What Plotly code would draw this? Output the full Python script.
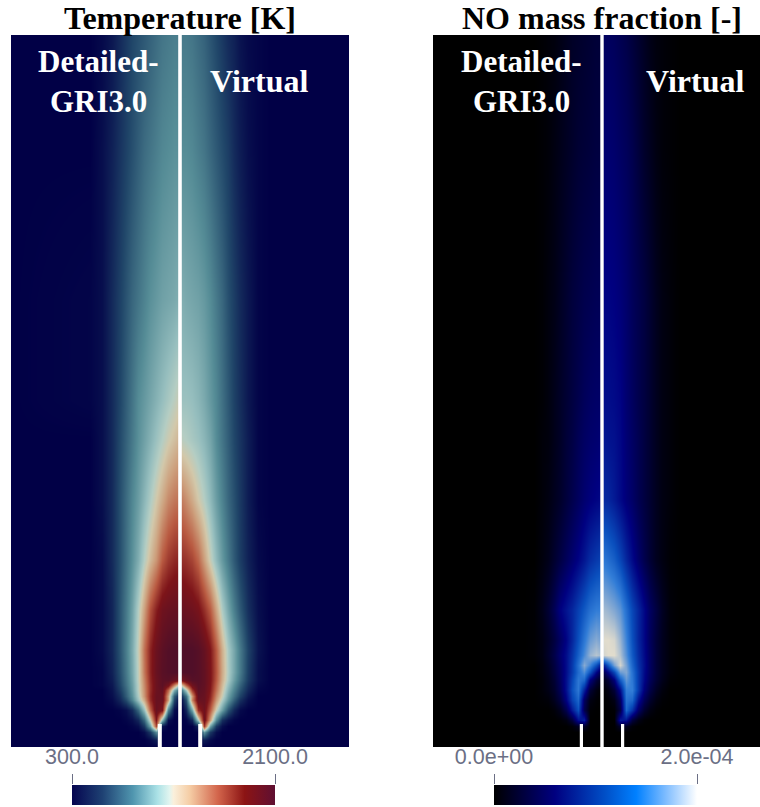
import plotly.graph_objects as go

# radial distance from the axis and height above the burner base
RADIAL = [1.8, 6, 12, 18, 24, 30, 36, 42, 48, 54, 60, 68, 78, 90, 169]
T_HEIGHT = [712, 597, 447, 347, 307, 247, 187, 137, 97, 75, 67, 62, 57, 51, 47, 37, 27, 21, 15, 7, 0]
NO_HEIGHT = [712, 597, 447, 347, 307, 247, 187, 137, 107, 92, 82, 75, 67, 57, 47, 37, 27, 21, 15, 0]

# temperature, percent of the 300-2100 K range
T_DETAILED = [
    [27, 27, 26, 25, 23, 21, 19, 17, 15, 12, 9, 5, 2, 0, 0],
    [31, 31, 30, 29, 27, 25, 23, 20, 17, 14, 11, 7, 3, 0, 0],
    [38, 37, 36, 35, 33, 31, 28, 25, 22, 18, 14, 9, 3, 1, 0],
    [50, 48, 45, 42, 39, 36, 33, 30, 25, 20, 15, 9, 3, 1, 0],
    [56, 54, 51, 47, 43, 39, 35, 31, 26, 21, 16, 9, 3, 0, 0],
    [68, 67, 64, 58, 52, 46, 40, 34, 29, 23, 17, 9, 3, 0, 0],
    [82, 81, 78, 72, 62, 55, 47, 38, 31, 24, 17, 9, 2, 0, 0],
    [93, 93, 92, 90, 83, 74, 60, 47, 35, 26, 18, 8, 2, 0, 0],
    [100, 100, 99, 96, 91, 82, 68, 50, 37, 27, 18, 8, 2, 0, 0],
    [100, 100, 99, 97, 92, 82, 67, 49, 36, 26, 17, 7, 1, 0, 0],
    [90, 92, 97, 96, 91, 81, 65, 49, 35, 25, 16, 6, 1, 0, 0],
    [50, 65, 88, 96, 91, 80, 64, 48, 34, 24, 15, 5, 1, 0, 0],
    [25, 38, 70, 94, 91, 80, 63, 48, 33, 22, 13, 4, 0, 0, 0],
    [10, 20, 60, 92, 92, 81, 62, 46, 31, 20, 10, 3, 0, 0, 0],
    [4, 15, 60, 92, 92, 80, 58, 43, 28, 16, 8, 2, 0, 0, 0],
    [0, 3, 28, 86, 92, 70, 42, 22, 9, 3, 1, 0, 0, 0, 0],
    [0, 0, 3, 40, 85, 50, 22, 8, 3, 1, 0, 0, 0, 0, 0],
    [0, 0, 0, 5, 75, 35, 12, 3, 1, 0, 0, 0, 0, 0, 0],
    [0, 0, 0, 0, 30, 12, 3, 0, 0, 0, 0, 0, 0, 0, 0],
    [0, 0, 0, 0, 6, 2, 0, 0, 0, 0, 0, 0, 0, 0, 0],
    [0, 0, 0, 0, 0, 0, 0, 0, 0, 0, 0, 0, 0, 0, 0],
]
T_VIRTUAL = [
    [26, 26, 25, 23, 21, 18, 15, 12, 9, 7, 4, 2, 1, 0, 0],
    [30, 30, 29, 27, 25, 22, 19, 16, 13, 9, 6, 3, 1, 0, 0],
    [38, 37, 36, 35, 33, 30, 26, 22, 17, 13, 9, 5, 1, 0, 0],
    [43, 43, 42, 40, 37, 33, 29, 24, 19, 14, 10, 5, 1, 0, 0],
    [48, 47, 45, 43, 40, 36, 30, 25, 20, 15, 11, 6, 1, 0, 0],
    [66, 63, 58, 52, 47, 41, 34, 28, 22, 17, 12, 6, 1, 0, 0],
    [80, 79, 76, 70, 60, 50, 41, 33, 26, 19, 13, 7, 2, 0, 0],
    [92, 91, 90, 87, 80, 72, 59, 46, 36, 27, 19, 10, 3, 0, 0],
    [100, 100, 100, 98, 93, 85, 72, 57, 45, 36, 26, 14, 4, 0, 0],
    [100, 100, 100, 98, 94, 86, 73, 58, 46, 36, 26, 13, 3, 0, 0],
    [88, 93, 98, 98, 94, 86, 72, 57, 45, 34, 24, 12, 3, 0, 0],
    [55, 72, 90, 97, 94, 85, 70, 55, 42, 31, 21, 10, 2, 0, 0],
    [28, 45, 78, 96, 93, 84, 68, 53, 39, 28, 18, 8, 1, 0, 0],
    [12, 25, 62, 94, 92, 82, 64, 50, 35, 24, 14, 5, 0, 0, 0],
    [5, 18, 65, 92, 92, 80, 61, 46, 32, 20, 10, 3, 0, 0, 0],
    [0, 8, 36, 80, 90, 72, 50, 34, 18, 8, 2, 0, 0, 0, 0],
    [0, 1, 8, 45, 90, 60, 30, 10, 4, 1, 0, 0, 0, 0, 0],
    [0, 0, 0, 8, 78, 35, 12, 3, 0, 0, 0, 0, 0, 0, 0],
    [0, 0, 0, 0, 32, 12, 3, 0, 0, 0, 0, 0, 0, 0, 0],
    [0, 0, 0, 0, 6, 2, 0, 0, 0, 0, 0, 0, 0, 0, 0],
    [0, 0, 0, 0, 0, 0, 0, 0, 0, 0, 0, 0, 0, 0, 0],
]

# NO mass fraction, percent of the 0-2e-4 range
NO_DETAILED = [
    [13, 13, 12, 11, 10, 9, 7, 5, 3, 2, 1, 0, 0, 0, 0],
    [15, 15, 14, 13, 12, 10, 8, 6, 4, 2, 1, 0, 0, 0, 0],
    [20, 20, 19, 18, 16, 14, 11, 8, 5, 3, 1, 0, 0, 0, 0],
    [24, 24, 23, 21, 18, 15, 12, 9, 6, 3, 1, 0, 0, 0, 0],
    [27, 26, 25, 23, 20, 16, 13, 9, 6, 3, 2, 0, 0, 0, 0],
    [32, 31, 29, 26, 22, 18, 14, 10, 7, 4, 2, 0, 0, 0, 0],
    [50, 48, 44, 37, 31, 26, 21, 16, 11, 6, 3, 0, 0, 0, 0],
    [70, 70, 66, 58, 50, 42, 36, 30, 20, 12, 6, 1, 0, 0, 0],
    [82, 85, 80, 68, 55, 42, 31, 23, 15, 9, 4, 1, 0, 0, 0],
    [90, 93, 88, 74, 60, 46, 34, 26, 17, 10, 4, 1, 0, 0, 0],
    [40, 55, 72, 85, 66, 48, 34, 24, 15, 8, 3, 0, 0, 0, 0],
    [20, 32, 55, 75, 64, 48, 34, 23, 14, 7, 3, 0, 0, 0, 0],
    [8, 14, 28, 62, 68, 52, 35, 22, 12, 6, 2, 0, 0, 0, 0],
    [1, 4, 12, 40, 68, 55, 35, 20, 10, 5, 2, 0, 0, 0, 0],
    [0, 1, 4, 22, 62, 50, 30, 15, 7, 2, 1, 0, 0, 0, 0],
    [0, 0, 1, 18, 55, 38, 18, 7, 2, 0, 0, 0, 0, 0, 0],
    [0, 0, 0, 40, 35, 14, 4, 1, 0, 0, 0, 0, 0, 0, 0],
    [0, 0, 0, 10, 8, 2, 0, 0, 0, 0, 0, 0, 0, 0, 0],
    [0, 0, 0, 0, 0, 0, 0, 0, 0, 0, 0, 0, 0, 0, 0],
    [0, 0, 0, 0, 0, 0, 0, 0, 0, 0, 0, 0, 0, 0, 0],
]
NO_VIRTUAL = [
    [22, 22, 21, 19, 17, 14, 11, 8, 5, 3, 2, 1, 0, 0, 0],
    [26, 26, 25, 23, 21, 18, 14, 10, 7, 4, 2, 1, 0, 0, 0],
    [31, 31, 30, 28, 25, 21, 18, 15, 11, 7, 4, 2, 0, 0, 0],
    [34, 34, 33, 31, 26, 22, 18, 15, 11, 7, 4, 2, 0, 0, 0],
    [37, 36, 35, 32, 27, 23, 19, 15, 11, 7, 4, 2, 0, 0, 0],
    [43, 42, 38, 33, 28, 24, 19, 15, 11, 7, 4, 2, 0, 0, 0],
    [68, 65, 60, 52, 42, 33, 25, 18, 12, 7, 4, 1, 0, 0, 0],
    [90, 88, 84, 78, 65, 52, 42, 32, 22, 15, 8, 2, 0, 0, 0],
    [100, 100, 98, 88, 72, 55, 42, 32, 21, 13, 7, 2, 0, 0, 0],
    [98, 100, 100, 92, 76, 58, 44, 33, 22, 13, 7, 2, 0, 0, 0],
    [42, 58, 82, 98, 82, 62, 46, 34, 22, 13, 7, 2, 0, 0, 0],
    [20, 32, 52, 80, 84, 66, 48, 33, 22, 13, 7, 2, 0, 0, 0],
    [6, 12, 28, 58, 78, 68, 48, 32, 20, 12, 6, 1, 0, 0, 0],
    [1, 4, 13, 34, 70, 70, 48, 28, 16, 8, 3, 0, 0, 0, 0],
    [0, 1, 5, 22, 66, 62, 36, 20, 10, 4, 1, 0, 0, 0, 0],
    [0, 0, 1, 16, 62, 46, 24, 11, 4, 1, 0, 0, 0, 0, 0],
    [0, 0, 0, 38, 36, 14, 5, 1, 0, 0, 0, 0, 0, 0, 0],
    [0, 0, 0, 10, 8, 2, 0, 0, 0, 0, 0, 0, 0, 0, 0],
    [0, 0, 0, 0, 0, 0, 0, 0, 0, 0, 0, 0, 0, 0, 0],
    [0, 0, 0, 0, 0, 0, 0, 0, 0, 0, 0, 0, 0, 0, 0],
]

T_LIMITS = [300.0, 2100.0]
NO_LIMITS = [0.0, 2.0e-4]
T_TICK_LABELS = ["300.0", "2100.0"]
NO_TICK_LABELS = ["0.0e+00", "2.0e-04"]
TITLES = ["Temperature [K]", "NO mass fraction [-]"]

T_FIELD_SCALE = [
    [0, "rgb(1,0,70)"], [0.15, "rgb(32,70,105)"], [0.3, "rgb(85,140,150)"],
    [0.42, "rgb(150,190,190)"], [0.47, "rgb(180,205,195)"], [0.52, "rgb(210,200,170)"],
    [0.6, "rgb(205,160,125)"], [0.72, "rgb(185,90,65)"], [0.85, "rgb(125,20,25)"], [1, "rgb(80,15,40)"],
]
T_BAR_SCALE = [
    [0, "rgb(5,5,80)"], [0.15, "rgb(30,65,115)"], [0.3, "rgb(80,150,175)"],
    [0.42, "rgb(170,225,230)"], [0.48, "rgb(225,245,240)"], [0.5, "rgb(250,240,220)"],
    [0.58, "rgb(245,205,165)"], [0.72, "rgb(210,100,75)"], [0.85, "rgb(140,20,20)"], [1, "rgb(95,15,50)"],
]
NO_FIELD_SCALE = [
    [0, "rgb(0,0,0)"], [0.3, "rgb(0,0,128)"], [0.55, "rgb(10,80,190)"], [0.7, "rgb(50,125,215)"],
    [0.85, "rgb(135,170,210)"], [1, "rgb(225,220,205)"],
]
NO_BAR_SCALE = [
    [0, "rgb(0,0,0)"], [0.3, "rgb(0,0,128)"], [0.55, "rgb(0,80,200)"], [0.7, "rgb(0,128,255)"],
    [0.85, "rgb(130,190,255)"], [1, "rgb(255,255,255)"],
]

W, H = 760, 807
TICK_COLOR = "#6b6f85"


def full_width(left, right):
    return [l[::-1] + r for l, r in zip(left, right)]


xs = [-r for r in RADIAL[::-1]] + RADIAL
T_FIELD = [[T_LIMITS[0] + (T_LIMITS[1] - T_LIMITS[0]) * v / 100 for v in row] for row in full_width(T_DETAILED, T_VIRTUAL)]
NO_FIELD = [[NO_LIMITS[1] * v / 100 for v in row] for row in full_width(NO_DETAILED, NO_VIRTUAL)]

fig = go.Figure()
fig.add_trace(go.Heatmap(x=xs, y=T_HEIGHT, z=T_FIELD, zmin=T_LIMITS[0], zmax=T_LIMITS[1], zsmooth="best",
                         colorscale=T_FIELD_SCALE, showscale=False, hoverinfo="skip", xaxis="x", yaxis="y"))
fig.add_trace(go.Heatmap(x=xs, y=NO_HEIGHT, z=NO_FIELD, zmin=NO_LIMITS[0], zmax=NO_LIMITS[1], zsmooth="best",
                         colorscale=NO_FIELD_SCALE, showscale=False, hoverinfo="skip", xaxis="x2", yaxis="y2"))


def bar_trace(limits, scale, left_px, xa, ya):
    return go.Scatter(
        x=limits, y=[0, 0], mode="markers", xaxis=xa, yaxis=ya, hoverinfo="skip", showlegend=False,
        marker=dict(
            color=limits, cmin=limits[0], cmax=limits[1], colorscale=scale, opacity=0, size=1, showscale=True,
            colorbar=dict(
                orientation="h", x=left_px / W, xanchor="left", y=2 / H, yanchor="bottom", xpad=0, ypad=0,
                lenmode="pixels", len=203, thicknessmode="pixels", thickness=20, outlinewidth=0,
                ticks="", showticklabels=False,
            ),
        ),
    )


fig.add_trace(bar_trace(T_LIMITS, T_BAR_SCALE, 72, "x3", "y3"))
fig.add_trace(bar_trace(NO_LIMITS, NO_BAR_SCALE, 494, "x4", "y4"))

shapes = []
for xa, ya, half_pipe, pipe_at, half_axis in (("x", "y", 2, 20.2, 1.8), ("x2", "y2", 1.6, 20.6, 1.7)):
    shapes.append(dict(type="rect", xref=xa, yref=ya, x0=-half_axis, x1=half_axis, y0=0, y1=712, fillcolor="white", line_width=0, layer="above"))
    for side in (-1, 1):
        c = side * pipe_at
        shapes.append(dict(type="rect", xref=xa, yref=ya, x0=c - half_pipe, x1=c + half_pipe, y0=0, y1=23, fillcolor="white", line_width=0, layer="above"))

annotations = []


def label(text, cx, cy, color, size):
    annotations.append(dict(text=text, xref="paper", yref="paper", x=cx / W, y=1 - cy / H, xanchor="center", yanchor="middle",
                            showarrow=False, font=dict(family="Liberation Serif", size=size, color=color)))


label(f"<b>{TITLES[0]}</b>", 180, 18, "black", 32)
label(f"<b>{TITLES[1]}</b>", 602, 18, "black", 32)
for off in (0, 422):
    label("<b>Detailed-</b>", 99 + off, 62, "white", 31)
    label("<b>GRI3.0</b>", 99 + off, 101, "white", 31)
label("<b>Virtual</b>", 259, 81, "white", 32)
label("<b>Virtual</b>", 695, 81, "white", 32)

blank = dict(visible=False, fixedrange=True)


def bar_axis(limits, labels, left_px, ya):
    return dict(domain=[left_px / W, (left_px + 203) / W], range=limits, anchor=ya, side="top", fixedrange=True,
                showgrid=False, zeroline=False, showline=False, tickmode="array", tickvals=limits, ticktext=labels,
                ticks="outside", ticklen=10, tickwidth=1, tickcolor=TICK_COLOR, ticklabelstandoff=1,
                tickfont=dict(family="Liberation Sans", size=21.5, color=TICK_COLOR))


fig.update_layout(
    width=W, height=H, margin=dict(l=0, r=0, t=0, b=0, autoexpand=False), paper_bgcolor="white", plot_bgcolor="rgba(0,0,0,0)",
    showlegend=False, shapes=shapes, annotations=annotations,
    xaxis=dict(domain=[11 / W, 349 / W], range=[-169, 169], **blank),
    yaxis=dict(domain=[1 - 747 / H, 1 - 35 / H], range=[0, 712], **blank),
    xaxis2=dict(domain=[433 / W, 1], range=[-169, 158], **blank),
    yaxis2=dict(domain=[1 - 747 / H, 1 - 35 / H], range=[0, 712], **blank),
    xaxis3=bar_axis(T_LIMITS, T_TICK_LABELS, 72, "y3"),
    yaxis3=dict(domain=[2 / H, 22 / H], range=[-1, 1], anchor="x3", **blank),
    xaxis4=bar_axis(NO_LIMITS, NO_TICK_LABELS, 494, "y4"),
    yaxis4=dict(domain=[2 / H, 22 / H], range=[-1, 1], anchor="x4", **blank),
)
fig.write_html("out.html", config={"displayModeBar": False}, post_script="document.body.style.margin='0';")
